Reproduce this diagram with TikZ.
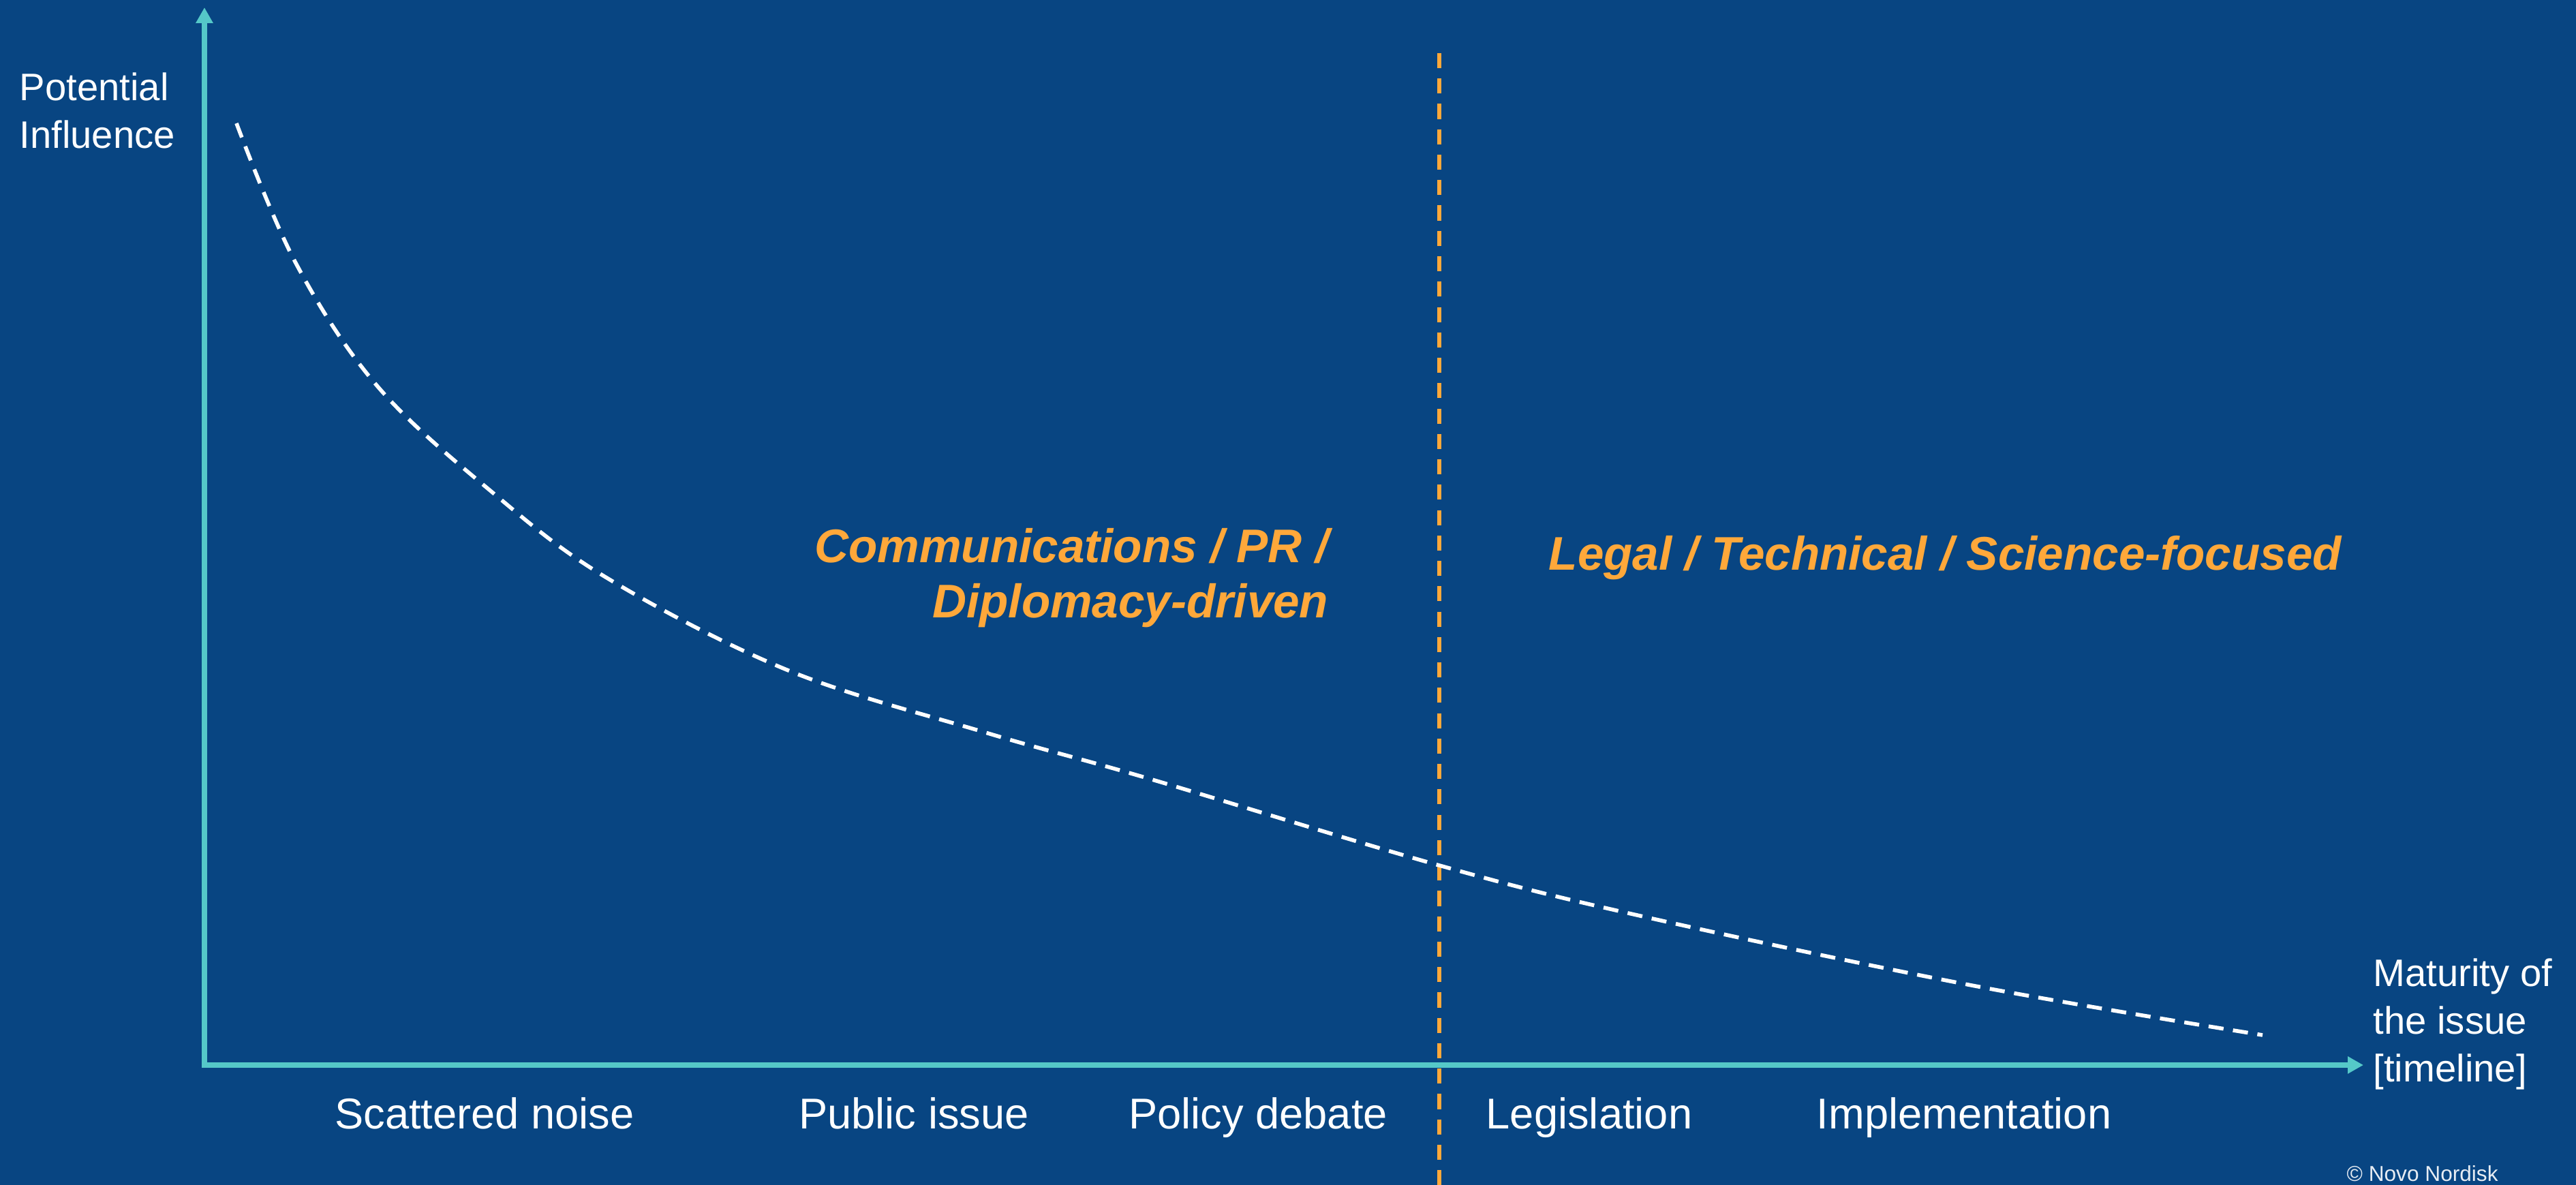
\documentclass[tikz,border=0pt]{standalone}
\usepackage{fontspec}
\setmainfont{Liberation Sans}
\usetikzlibrary{arrows.meta}
\definecolor{slidebg}{HTML}{084582}
\definecolor{axisteal}{HTML}{55C8C8}
\definecolor{accent}{HTML}{FFA83A}

\begin{document}
\begin{tikzpicture}[
  every node/.style={inner sep=0, text=white},
  axis/.style={draw=axisteal, line width=2.3pt, {Triangle[width=6.8pt,length=6.5pt]}-{Triangle[width=6.8pt,length=6.5pt]}},
  divider/.style={draw=accent, line width=1.5pt, dash pattern=on 6.3pt off 4.3pt},
  trend/.style={draw=white, line width=1.6pt, dash pattern=on 6.3pt off 4pt},
  axlabel/.style={anchor=base west, align=left, font=\fontsize{16}{20}\selectfont},
  stage/.style={anchor=base, font=\fontsize{18}{22}\selectfont},
  phase/.style={text=accent, font=\fontsize{19.7}{23.3}\selectfont\bfseries\itshape}]
  \useasboundingbox (0,0) rectangle (37.8,17.39);
  \clip (0,0) rectangle (37.8,17.39);
  \fill[slidebg] (0,0) rectangle (37.8,17.39);
  % axes
  \coordinate (o) at (3,1.76);
  \coordinate (ytop) at (3,17.28);
  \coordinate (xend) at (34.68,1.76);
  \draw[axis] (ytop) -- (o) -- (xend);
  % phase divider
  \coordinate (dtop) at (21.12,16.61);
  \coordinate (dbot) at (21.12,0);
  \draw[divider] (dtop) -- (dbot);
  % influence curve
  \draw[trend] plot[smooth, tension=0.6] coordinates {(3.47,15.58) (4.34,13.53) (5.54,11.72) (7.23,10.16) (8.92,8.90) (11.57,7.55) (14.46,6.64) (16.87,5.96) (21.12,4.69) (24.11,3.94) (28.93,2.93) (33.20,2.20)};
  % axis labels (anchored at the last line)
  \node[axlabel] (ylab) at (0.28,15.21) {Potential\\Influence};
  \node[axlabel] (xlab) at (34.82,1.51) {Maturity of\\the issue\\{[timeline]}};
  % stages along the timeline
  \foreach \x/\t [count=\i] in {7.11/Scattered noise, 13.41/Public issue, 18.46/Policy debate, 23.32/Legislation, 28.82/Implementation}
    \node[stage] (s\i) at (\x,0.82) {\t};
  % phases
  \node[phase, anchor=base east, align=right] (soft) at (19.50,8.32) {Communications / PR /\\Diplomacy-driven};
  \node[phase, anchor=base west] (hard) at (22.72,9.02) {Legal / Technical / Science-focused};
  \node[anchor=base west, font=\fontsize{9}{11}\selectfont, text=white!90!slidebg] (copy) at (34.43,0.05) {© Novo Nordisk};
\end{tikzpicture}
\end{document}
